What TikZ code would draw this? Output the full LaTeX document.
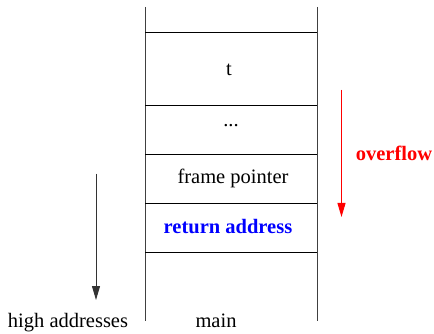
\documentclass[tikz,border=0pt]{standalone}
\usepackage{fontspec}
\setmainfont{Liberation Serif}
\usetikzlibrary{arrows.meta}
\begin{document}
\begin{tikzpicture}[x=1pt,y=-1pt,
  rail/.style={draw=black!75,line width=1pt},
  sep/.style={draw=black,line width=0.9pt},
  lbl/.style={inner sep=0pt,font=\fontsize{20.5}{23}\selectfont},
  boldlbl/.style={lbl,font=\fontsize{20.5}{23}\selectfont\bfseries},
  dirarrow/.style={line width=1pt,-{Triangle[length=14pt,width=8pt]}}]
\useasboundingbox (0,0) rectangle (434,334);
% stack rails
\draw[rail] (145,7) -- (145,321);
\draw[rail] (317,7) -- (317,321);
% slot separators
\foreach \y in {32,105,154.5,203.5,252.5}
  \draw[sep] (145,\y) -- (317,\y);
% slot contents
\node[lbl] (t) at (229,70) {t};
\node[lbl] (dots) at (231,126) {...};
\node[lbl] (fp) at (233,178) {frame pointer};
\node[boldlbl,text=blue] (ra) at (228,227) {return address};
\node[lbl] (main) at (216,321) {main};
% growth direction
\coordinate (hs) at (96,174);
\coordinate (he) at (96,300);
\draw[dirarrow,draw=black!80,fill=black] (hs) -- (he);
\node[lbl] (high) at (68,323) {high addresses};
% overflow direction
\coordinate (os) at (341.5,90);
\coordinate (oe) at (341.5,217);
\draw[dirarrow,draw=red,fill=red] (os) -- (oe);
\node[boldlbl,text=red] (ovf) at (394,153) {overflow};
\end{tikzpicture}
\end{document}
